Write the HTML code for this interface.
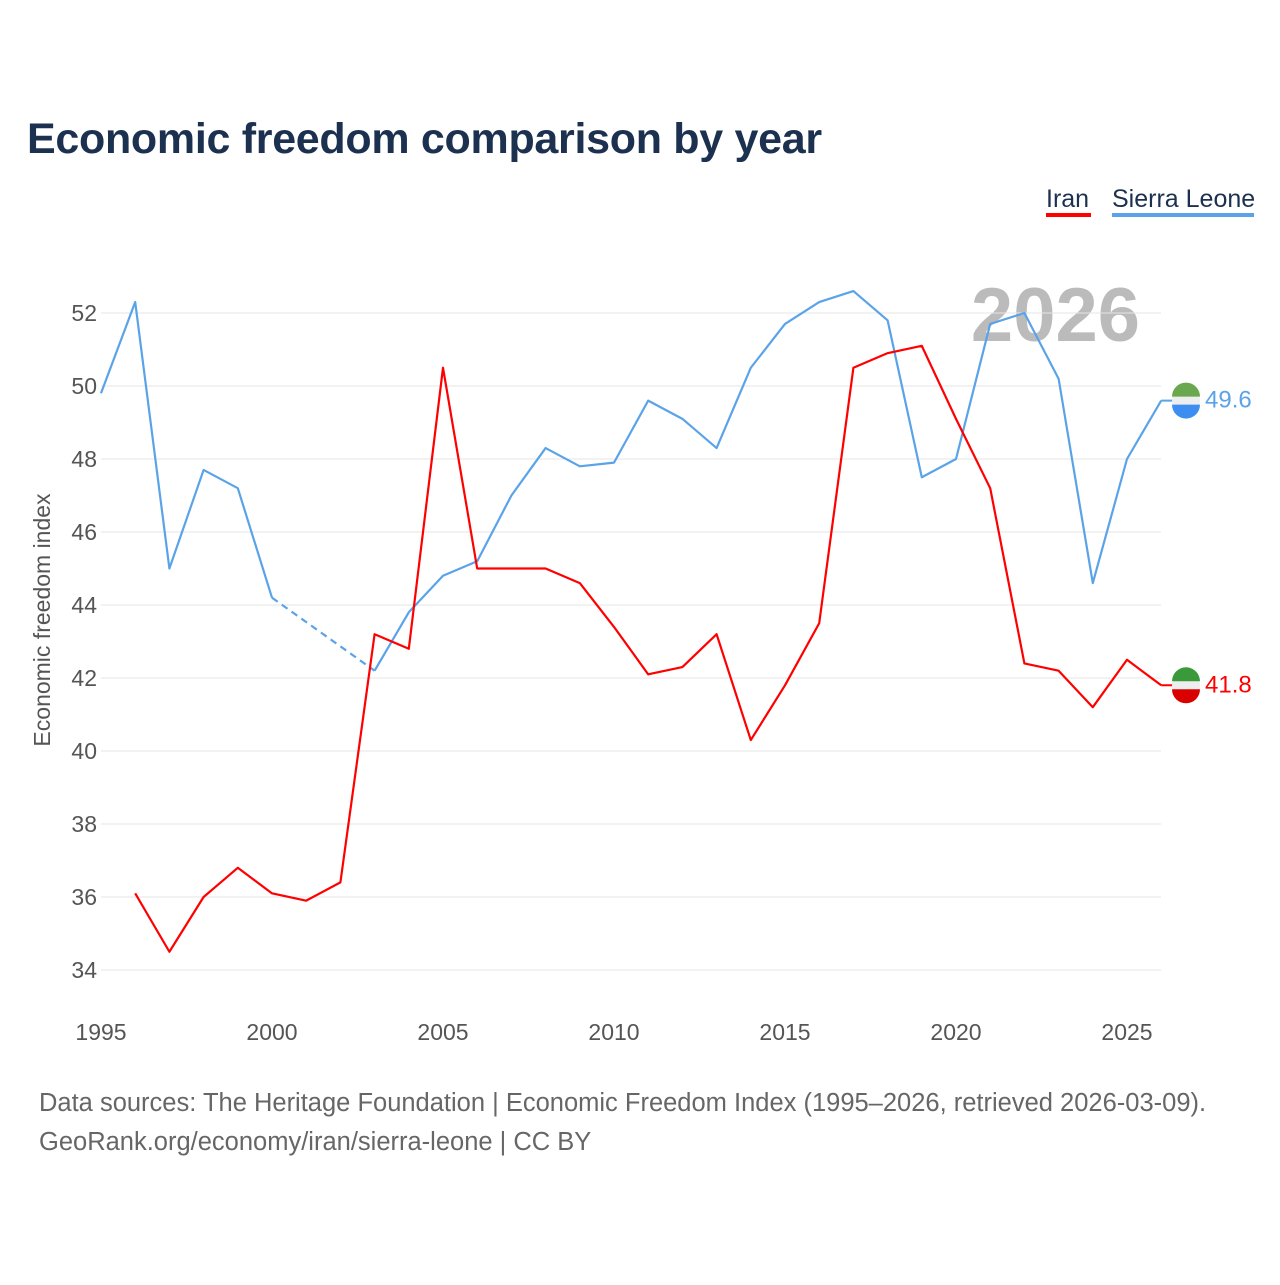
<!DOCTYPE html>
<html><head><meta charset="utf-8"><style>
body{margin:0;background:#fff;font-family:"Liberation Sans",sans-serif;}
</style></head><body>
<svg id="chart" width="1280" height="1280" xmlns="http://www.w3.org/2000/svg" style="font-family:'Liberation Sans',sans-serif">
<rect width="1280" height="1280" fill="#fff"/>
<text x="27" y="153" font-size="43" font-weight="bold" fill="#1c3150" letter-spacing="-0.3">Economic freedom comparison by year</text>
<g><text x="1046" y="207" font-size="25" fill="#1c3150">Iran</text><rect x="1046" y="213" width="45" height="4" fill="#ff0000"/></g>
<g><text x="1112" y="207" font-size="25" fill="#1c3150">Sierra Leone</text><rect x="1112" y="213" width="142" height="4" fill="#5ba3e8"/></g>
<text x="1140" y="341" text-anchor="end" font-size="76" font-weight="bold" fill="#bbbbbb">2026</text>
<text transform="translate(50,620) rotate(-90)" text-anchor="middle" font-size="23" fill="#555">Economic freedom index</text>
<g id="grid"></g><g id="axes"></g><g id="lines"></g>
<text x="39" y="1111" font-size="25.5" fill="#666">Data sources: The Heritage Foundation | Economic Freedom Index (1995–2026, retrieved 2026-03-09).</text>
<text x="39" y="1150" font-size="25.5" fill="#666">GeoRank.org/economy/iran/sierra-leone | CC BY</text>
</svg>
<script>
const years=[1995,1996,1997,1998,1999,2000,2001,2002,2003,2004,2005,2006,2007,2008,2009,2010,2011,2012,2013,2014,2015,2016,2017,2018,2019,2020,2021,2022,2023,2024,2025,2026];
const sierraLeone=[49.8,52.3,45.0,47.7,47.2,44.2,null,null,42.2,43.8,44.8,45.2,47.0,48.3,47.8,47.9,49.6,49.1,48.3,50.5,51.7,52.3,52.6,51.8,47.5,48.0,51.7,52.0,50.2,44.6,48.0,49.6];
const iran=[null,36.1,34.5,36.0,36.8,36.1,35.9,36.4,43.2,42.8,50.5,45.0,45.0,45.0,44.6,43.4,42.1,42.3,43.2,40.3,41.8,43.5,50.5,50.9,51.1,49.1,47.2,42.4,42.2,41.2,42.5,41.8];
const yTicks=[34,36,38,40,42,44,46,48,50,52];
const xTicks=[1995,2000,2005,2010,2015,2020,2025];
const NS='http://www.w3.org/2000/svg';
const X=y=>101+(y-1995)*34.2;
const Y=v=>313+(52-v)*36.5;
function mk(t,a,p){const e=document.createElementNS(NS,t);for(const k in a)e.setAttribute(k,a[k]);p.appendChild(e);return e;}
const grid=document.getElementById('grid'),axes=document.getElementById('axes'),lines=document.getElementById('lines');
yTicks.forEach(v=>{
 const l=mk('line',{x1:101,x2:1161,y1:Y(v),y2:Y(v),stroke:'#e6e6e6','stroke-width':1},grid);
 
 
 const t=mk('text',{x:97,y:Y(v)+8,'text-anchor':'end','font-size':23,fill:'#555'},axes);t.textContent=v;
 
 
});
xTicks.forEach(v=>{
 const t=mk('text',{x:X(v),y:1040,'text-anchor':'middle','font-size':23,fill:'#555'},axes);t.textContent=v;
 
 
});
function draw(vals,color,name){
 let segs=[],cur=[],gaps=[];let last=null;
 vals.forEach((v,i)=>{
  if(v==null){if(cur.length)segs.push(cur);cur=[];return;}
  if(last!=null&&last!==i-1&&cur.length===0)gaps.push([last,i]);
  cur.push([X(years[i]),Y(v)]);last=i;
 });
 if(cur.length)segs.push(cur);
 segs.forEach(s=>{
  const p=mk('polyline',{points:s.map(q=>q.join(',')).join(' '),fill:'none',stroke:color,'stroke-width':2.2,'stroke-linejoin':'round'},lines);
  
  
 });
 gaps.forEach(g=>{
  const d=mk('line',{x1:X(years[g[0]]),y1:Y(vals[g[0]]),x2:X(years[g[1]]),y2:Y(vals[g[1]]),stroke:color,'stroke-width':2.2,'stroke-dasharray':'7,5'},lines);
  
  
 });
 const lv=vals[vals.length-1],cx=1186,cy=Y(lv);
 mk('line',{x1:X(2026),x2:cx,y1:cy,y2:cy,stroke:color,'stroke-width':2},lines);
 const f=mk('g',{},lines);
 
 
 mk('circle',{cx,cy,r:14,fill:'#eee'},f);
 if(name==='iran'){mk('path',{d:`M${cx-14},${cy-4} A14,14 0 0 1 ${cx+14},${cy-4} Z`,fill:'#3a9a3a'},f);mk('path',{d:`M${cx-14},${cy+4} A14,14 0 0 0 ${cx+14},${cy+4} Z`,fill:'#da0000'},f);}
 else{mk('path',{d:`M${cx-14},${cy-4} A14,14 0 0 1 ${cx+14},${cy-4} Z`,fill:'#6aa84f'},f);mk('path',{d:`M${cx-14},${cy+4} A14,14 0 0 0 ${cx+14},${cy+4} Z`,fill:'#3d8ef0'},f);}
 const t=mk('text',{x:1205,y:cy+7,'font-size':24,fill:color},lines);t.textContent=lv.toFixed(1);
 
 
}
draw(sierraLeone,'#5ba3e8','sierra-leone');
draw(iran,'#ff0000','iran');
</script>
</body></html>
